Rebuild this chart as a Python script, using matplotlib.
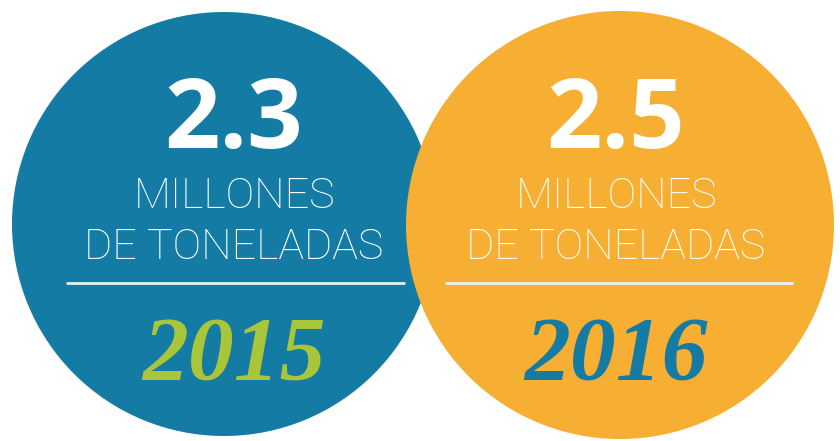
import matplotlib
matplotlib.use("Agg")
import matplotlib.pyplot as plt
from matplotlib.patches import Circle

# values shown in the two discs
years = ["2015", "2016"]
values = [2.3, 2.5]
unit_lines = ["MILLONES", "DE TONELADAS"]

disc_colors = ["#137ba4", "#f6ae33"]
year_colors = ["#a9c63a", "#137ba4"]
line_color = "#e3f1f3"

# disc geometry in pixel space (x centre, y centre, radius)
centers_x = [224, 620]
centers_y = [224, 225]
radii = [212, 214]
text_x = [234, 616]
rule_span = [(66, 405), (445, 793)]

fig = plt.figure(figsize=(8.4, 4.41), dpi=100)
fig.patch.set_facecolor("white")
ax = fig.add_axes([0, 0, 1, 1])
ax.set_xlim(0, 840)
ax.set_ylim(441, 0)
ax.axis("off")

for i, (year, value) in enumerate(zip(years, values)):
    ax.add_patch(Circle((centers_x[i], centers_y[i]), radii[i],
                        facecolor=disc_colors[i], edgecolor="none", zorder=1 + 2 * i))
    z = 2 + 2 * i
    ax.text(text_x[i], 148, f"{value:.1f}", ha="center", va="baseline",
            fontsize=70, fontweight="bold", family="Open Sans", color="white", zorder=z)
    ax.text(text_x[i], 208, unit_lines[0], ha="center", va="baseline",
            fontsize=31, fontweight="light", family="Roboto", color="white", zorder=z)
    ax.text(text_x[i], 259, unit_lines[1], ha="center", va="baseline",
            fontsize=31, fontweight="light", family="Roboto", color="white", zorder=z)
    ax.plot(rule_span[i], [283, 283], color=line_color, lw=2, zorder=z,
            solid_capstyle="butt")
    ax.text(text_x[i], 380, year, ha="center", va="baseline",
            fontsize=66, fontstyle="italic", fontweight="bold",
            family="Liberation Serif", color=year_colors[i], zorder=z)

fig.savefig("out.png", dpi=100, facecolor="white")
